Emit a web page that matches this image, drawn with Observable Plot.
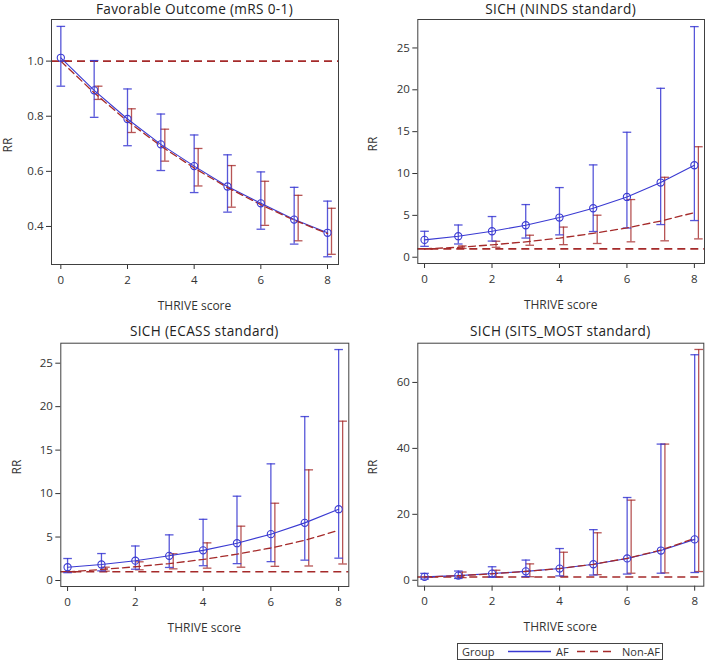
<!DOCTYPE html>
<html>
<head>
<meta charset="utf-8">
<script src="https://cdn.jsdelivr.net/npm/d3@7"></script>
<script src="https://cdn.jsdelivr.net/npm/@observablehq/plot@0.6"></script>
<style>
  body { margin: 0; background: #fff; }
  #root { position: relative; width: 709px; height: 663px; background: #fff; font-family: "Open Sans", sans-serif; color: #333; overflow: hidden; }
  .abs { position: absolute; }
  .title { font-size: 13.6px; letter-spacing: 0.35px; white-space: nowrap; transform: translate(-50%, -50%); line-height: 16px; color: #222; }
  .xlab { font-size: 12px; white-space: nowrap; transform: translate(-50%, -50%); color: #333; line-height: 14px; }
  .ylab { font-size: 12px; white-space: nowrap; transform: translate(-50%, -50%) rotate(-90deg); color: #333; line-height: 12px; }
</style>
</head>
<body>
<div id="root"></div>
<script>
// ---------------- data ----------------
const thrive = [0, 1, 2, 3, 4, 5, 6, 7, 8];
const groups = ["AF", "Non-AF"];
const titles = ["Favorable Outcome (mRS 0-1)", "SICH (NINDS standard)", "SICH (ECASS standard)", "SICH (SITS_MOST standard)"];
const xLabel = "THRIVE score";
const yLabel = "RR";
const xTickValues = [0, 2, 4, 6, 8];

// Favorable outcome
const favAF    = [1.012, 0.894, 0.790, 0.698, 0.619, 0.545, 0.484, 0.425, 0.377];
const favAFLo  = [0.909, 0.796, 0.693, 0.603, 0.523, 0.452, 0.390, 0.336, 0.290];
const favAFHi  = [1.126, 1.002, 0.899, 0.808, 0.732, 0.660, 0.598, 0.542, 0.492];
const favNon   = [1.000, 0.885, 0.782, 0.692, 0.612, 0.541, 0.479, 0.423, 0.374];
const favNonLo = [1.000, 0.861, 0.741, 0.637, 0.547, 0.470, 0.404, 0.348, 0.299];
const favNonHi = [1.000, 0.909, 0.827, 0.753, 0.683, 0.621, 0.564, 0.513, 0.466];
const favYTicks = [0.4, 0.6, 0.8, 1.0];

// SICH NINDS
const nindsAF    = [2.07, 2.51, 3.10, 3.82, 4.74, 5.85, 7.20, 8.92, 10.99];
const nindsAFLo  = [1.30, 1.58, 1.93, 2.29, 2.67, 3.07, 3.49, 3.90, 4.38];
const nindsAFHi  = [3.10, 3.85, 4.86, 6.29, 8.32, 11.03, 14.93, 20.18, 27.55];
const nindsNon   = [1.00, 1.19, 1.48, 1.84, 2.29, 2.85, 3.50, 4.32, 5.33];
const nindsNonLo = [1.00, 1.05, 1.19, 1.43, 1.50, 1.64, 1.84, 1.96, 2.19];
const nindsNonHi = [1.00, 1.35, 1.91, 2.63, 3.60, 5.02, 6.89, 9.55, 13.20];
const nindsYTicks = [0, 5, 10, 15, 20, 25];

// SICH ECASS
const ecassAF    = [1.53, 1.84, 2.28, 2.84, 3.47, 4.29, 5.33, 6.63, 8.20];
const ecassAFLo  = [0.90, 1.11, 1.30, 1.50, 1.70, 1.94, 2.17, 2.34, 2.57];
const ecassAFHi  = [2.53, 3.10, 3.97, 5.25, 7.04, 9.70, 13.42, 18.86, 26.57];
const ecassNon   = [1.00, 1.27, 1.58, 1.95, 2.42, 3.03, 3.74, 4.62, 5.77];
const ecassNonLo = [1.00, 1.07, 1.23, 1.34, 1.42, 1.53, 1.63, 1.67, 1.90];
const ecassNonHi = [1.00, 1.53, 2.15, 3.07, 4.33, 6.25, 8.89, 12.73, 18.33];
const ecassYTicks = [0, 5, 10, 15, 20, 25];

// SICH SITS_MOST
const sitsAF    = [1.02, 1.40, 2.03, 2.70, 3.55, 4.85, 6.62, 9.01, 12.40];
const sitsAFLo  = [0.35, 0.55, 0.95, 1.12, 1.33, 1.58, 1.88, 2.14, 2.35];
const sitsAFHi  = [2.10, 2.80, 4.10, 6.12, 9.62, 15.35, 25.10, 41.30, 68.40];
const sitsNon   = [1.00, 1.38, 1.95, 2.70, 3.55, 4.85, 6.65, 9.15, 12.70];
const sitsNonLo = [1.00, 0.80, 1.00, 1.08, 1.18, 1.70, 2.14, 2.24, 2.64];
const sitsNonHi = [1.00, 2.50, 3.04, 4.97, 8.50, 14.40, 24.30, 41.30, 70.00];
const sitsYTicks = [0, 20, 40, 60];

const refValue = 1;

// ---------------- styles ----------------
const BLUE = "#3a3ad2";
const RED = "#a52a2a";
const FRAME = "#404040";

const cap = { draw(ctx) { ctx.moveTo(-4.3, 0); ctx.lineTo(4.3, 0); } };

function rows(y, lo, hi) {
  return thrive.map((x, i) => ({ x, y: y[i], lo: lo[i], hi: hi[i] }));
}

const root = document.getElementById("root");

function addDiv(cls, text, left, top) {
  const d = document.createElement("div");
  d.className = "abs " + cls;
  d.textContent = text;
  d.style.left = left + "px";
  d.style.top = top + "px";
  root.appendChild(d);
}

function panel(p) {
  const af = rows(p.af, p.afLo, p.afHi);
  const non = rows(p.non, p.nonLo, p.nonHi);
  const chart = Plot.plot({
    width: p.width, height: p.height,
    marginLeft: p.ml, marginRight: p.mr, marginTop: p.mt, marginBottom: p.mb,
    style: { fontFamily: "Open Sans", fontSize: "11.5px", color: "#333", background: "transparent", overflow: "visible" },
    x: { domain: p.xDomain, ticks: xTickValues, tickSize: 5, tickPadding: 6, label: null },
    y: { domain: p.yDomain, ticks: p.yTicks, tickFormat: p.yFmt, tickSize: 5, tickPadding: 3, label: null },
    marks: [
      Plot.ruleY([refValue], { stroke: RED, strokeWidth: 1.6, strokeDasharray: "8,5" }),
      Plot.ruleX(non, { x: "x", y1: "lo", y2: "hi", dx: 4, stroke: RED, strokeWidth: 1.3, strokeOpacity: 0.8 }),
      Plot.dot(non, { x: "x", y: "lo", dx: 4, symbol: cap, stroke: RED, strokeWidth: 1.3, strokeOpacity: 0.8 }),
      Plot.dot(non, { x: "x", y: "hi", dx: 4, symbol: cap, stroke: RED, strokeWidth: 1.3, strokeOpacity: 0.8 }),
      Plot.ruleX(af, { x: "x", y1: "lo", y2: "hi", stroke: BLUE, strokeWidth: 1.3, strokeOpacity: 0.85 }),
      Plot.dot(af, { x: "x", y: "lo", symbol: cap, stroke: BLUE, strokeWidth: 1.3, strokeOpacity: 0.85 }),
      Plot.dot(af, { x: "x", y: "hi", symbol: cap, stroke: BLUE, strokeWidth: 1.3, strokeOpacity: 0.85 }),
      Plot.line(af, { x: "x", y: "y", stroke: BLUE, strokeWidth: 1.1 }),
      Plot.line(non, { x: "x", y: "y", stroke: RED, strokeWidth: 1.3, strokeDasharray: "7,4" }),
      Plot.dot(af, { x: "x", y: "y", r: 3.6, stroke: BLUE, fill: "none", strokeWidth: 1.1 }),
      Plot.frame({ stroke: FRAME, strokeWidth: 1 })
    ]
  });
  chart.style.position = "absolute";
  chart.style.left = p.left + "px";
  chart.style.top = p.top + "px";
  root.appendChild(chart);
  const fx0 = p.left + p.ml, fx1 = p.left + p.width - p.mr;
  const fy0 = p.top + p.mt, fy1 = p.top + p.height - p.mb;
  const cx = (fx0 + fx1) / 2;
  addDiv("title", p.title, cx, p.titleY);
  addDiv("xlab", xLabel, cx, fy1 + 41.5);
  addDiv("ylab", yLabel, p.ylabX, (fy0 + fy1) / 2 + 3);
}

const f1 = d3.format(".1f");
const f0 = d3.format("d");

panel({ left: 0, top: 0, width: 354, height: 300, ml: 51, mr: 16, mt: 19, mb: 36,
  xDomain: [-0.28, 8.33], yDomain: [0.262, 1.151], yTicks: favYTicks, yFmt: f1,
  af: favAF, afLo: favAFLo, afHi: favAFHi, non: favNon, nonLo: favNonLo, nonHi: favNonHi,
  title: titles[0], titleY: 8.5, ylabX: 7.5 });

panel({ left: 354, top: 0, width: 355, height: 300, ml: 63.3, mr: 5, mt: 19, mb: 37,
  xDomain: [-0.2, 8.3], yDomain: [-0.75, 28.4], yTicks: nindsYTicks, yFmt: f0,
  af: nindsAF, afLo: nindsAFLo, afHi: nindsAFHi, non: nindsNon, nonLo: nindsNonLo, nonHi: nindsNonHi,
  title: titles[1], titleY: 8.5, ylabX: 373 });

panel({ left: 0, top: 320, width: 354, height: 300, ml: 60.3, mr: 5.7, mt: 22.7, mb: 34,
  xDomain: [-0.2, 8.3], yDomain: [-0.69, 27.3], yTicks: ecassYTicks, yFmt: f0,
  af: ecassAF, afLo: ecassAFLo, afHi: ecassAFHi, non: ecassNon, nonLo: ecassNonLo, nonHi: ecassNonHi,
  title: titles[2], titleY: 331, ylabX: 17 });

panel({ left: 354, top: 320, width: 355, height: 300, ml: 63.3, mr: 5.7, mt: 22.7, mb: 34.3,
  xDomain: [-0.2, 8.27], yDomain: [-1.8, 71.9], yTicks: sitsYTicks, yFmt: f0,
  af: sitsAF, afLo: sitsAFLo, afHi: sitsAFHi, non: sitsNon, nonLo: sitsNonLo, nonHi: sitsNonHi,
  title: titles[3], titleY: 331, ylabX: 373 });

// ---------------- legend ----------------
const legend = d3.create("svg").attr("width", 210).attr("height", 20)
  .style("position", "absolute").style("left", "455px").style("top", "641px")
  .style("font-family", "Open Sans").style("font-size", "11px");
legend.append("rect").attr("x", 2.5).attr("y", 2.5).attr("width", 205).attr("height", 16)
  .attr("fill", "none").attr("stroke", "#444");
legend.append("text").attr("x", 7).attr("y", 14.5).attr("fill", "#333").text("Group");
legend.append("line").attr("x1", 53).attr("x2", 96).attr("y1", 10.5).attr("y2", 10.5)
  .attr("stroke", BLUE).attr("stroke-width", 1.4);
legend.append("text").attr("x", 101).attr("y", 14.5).attr("fill", "#333").text(groups[0]);
legend.append("line").attr("x1", 122).attr("x2", 161).attr("y1", 10.5).attr("y2", 10.5)
  .attr("stroke", RED).attr("stroke-width", 1.4).attr("stroke-dasharray", "8,5");
legend.append("text").attr("x", 167).attr("y", 14.5).attr("fill", "#333").text(groups[1]);
root.appendChild(legend.node());
</script>
</body>
</html>
